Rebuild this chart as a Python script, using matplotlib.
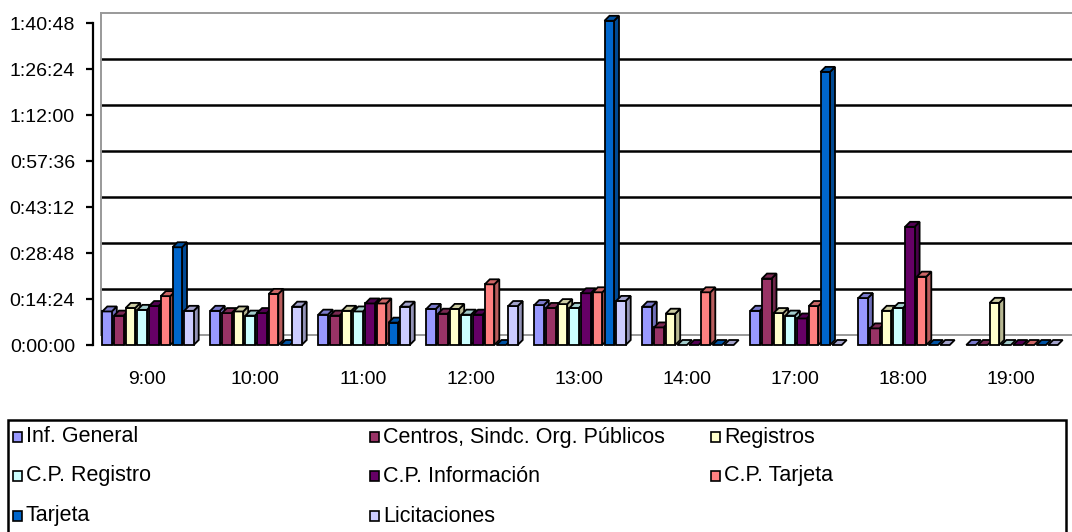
import matplotlib
matplotlib.use("Agg")
import matplotlib.pyplot as plt
import matplotlib.transforms as mtrans
from matplotlib.patches import Polygon, Rectangle
from matplotlib.ticker import FuncFormatter, FixedLocator
import matplotlib.colors as mcolors

plt.rcParams['font.family'] = ['Liberation Sans', 'DejaVu Sans']

categories = ["9:00", "10:00", "11:00", "12:00", "13:00", "14:00", "17:00", "18:00", "19:00"]
series_names = ["Inf. General", "Centros, Sindc. Org. Públicos", "Registros",
                "C.P. Registro", "C.P. Información", "C.P. Tarjeta",
                "Tarjeta", "Licitaciones"]
series_colors = ["#9999FF", "#993366", "#FFFFCC", "#CCFFFF",
                 "#660066", "#FF8080", "#0066CC", "#CCCCFF"]

# values in minutes
inf_general   = [10.5, 10.7, 9.5, 11.3, 12.5, 12.0, 10.7, 14.7, 0.0]
centros       = [9.2, 10.0, 9.2, 9.8, 11.6, 5.5, 20.8, 5.2, 0.0]
registros     = [11.6, 10.5, 10.7, 11.3, 12.8, 9.8, 10.0, 10.7, 13.2]
cp_registro   = [11.0, 9.2, 10.5, 9.5, 11.6, 0.0, 9.2, 11.6, 0.0]
cp_informacion= [12.2, 10.0, 13.0, 9.5, 16.2, 0.0, 8.3, 37.0, 0.0]
cp_tarjeta    = [15.3, 16.0, 13.0, 19.0, 16.5, 16.5, 12.2, 21.4, 0.0]
tarjeta       = [30.6, 0.0, 7.0, 0.0, 101.5, 0.0, 85.5, 0.0, 0.0]
licitaciones  = [10.7, 12.0, 12.0, 12.2, 13.8, 0.0, 0.0, 0.0, 0.0]
series_values = [inf_general, centros, registros, cp_registro,
                 cp_informacion, cp_tarjeta, tarjeta, licitaciones]

y_ticks_sec = [0, 864, 1728, 2592, 3456, 4320, 5184, 6048]

W, H = 1072, 532
fig = plt.figure(figsize=(W / 100, H / 100), dpi=100)
ax = fig.add_axes([93 / W, 1 - 345 / H, (1065 - 93) / W, (345 - 23) / H])
ax.set_xlim(-0.5, len(categories) - 0.5)
ax.set_ylim(0, y_ticks_sec[-1] / 60)

# pixel -> data conversions
px_x = (len(categories)) / (1065 - 93)
px_y = (y_ticks_sec[-1] / 60) / (345 - 23)

# back wall (offset)
wall_dx, wall_dy = 8, 10
off = ax.transData + mtrans.ScaledTranslation(wall_dx / 100, wall_dy / 100, fig.dpi_scale_trans)
for t in y_ticks_sec:
    v = t / 60
    col = "#999999" if (t == 0 or t == y_ticks_sec[-1]) else "black"
    lw = 1.8 if col == "black" else 1.4
    ax.plot([-0.5, len(categories) - 0.5 + 0.1], [v, v], color=col, lw=lw,
            transform=off, clip_on=False, zorder=1)
ax.plot([-0.5, -0.5], [0, y_ticks_sec[-1] / 60], color="#999999", lw=1.4,
        transform=off, clip_on=False, zorder=1)

# bars
spacing = 11.7 * px_x
w = 9.5 * px_x
ddx = 5 * px_x
ddy = 5 * px_y

def darker(c, f):
    r, g, b = mcolors.to_rgb(c)
    return (r * f, g * f, b * f)

for i, (vals, col) in enumerate(zip(series_values, series_colors)):
    for j, v in enumerate(vals):
        xc = j + (i - 3.5) * spacing + 1 * px_x
        x0 = xc - w / 2
        z = 3 + i * 0.01
        if v > 0:
            side = Polygon([(x0 + w, 0), (x0 + w + ddx, ddy), (x0 + w + ddx, v + ddy), (x0 + w, v)],
                           closed=True, facecolor=darker(col, 0.72), edgecolor="black",
                           lw=1.3, zorder=z, clip_on=False)
            ax.add_patch(side)
            body = Rectangle((x0, 0), w, v, facecolor=col, edgecolor="black",
                             lw=1.3, zorder=z + 0.001, clip_on=False)
            ax.add_patch(body)
        top = Polygon([(x0, v), (x0 + w, v), (x0 + w + ddx, v + ddy), (x0 + ddx, v + ddy)],
                      closed=True, facecolor=darker(col, 0.8), edgecolor="black",
                      lw=1.3, zorder=z + 0.002, clip_on=False)
        ax.add_patch(top)

# axes styling
for s in ["top", "right", "bottom"]:
    ax.spines[s].set_visible(False)
ax.spines["left"].set_linewidth(1.6)
ax.yaxis.set_major_locator(FixedLocator([t / 60 for t in y_ticks_sec]))

def fmt(v, pos):
    s = int(round(v * 60))
    return f"{s // 3600}:{(s % 3600) // 60:02d}:{s % 60:02d}"

ax.yaxis.set_major_formatter(FuncFormatter(fmt))
ax.tick_params(axis="y", direction="out", length=5, width=1.6, pad=8,
               labelsize=14)
ax.set_xticks(range(len(categories)))
ax.set_xticklabels(categories)
ax.tick_params(axis="x", length=0, pad=19, labelsize=14)
ax.set_facecolor("none")

# legend (manual, framed)
fig.patches.append(Rectangle((8 / W, -0.05), (1066 - 8) / W, (0.05 + 1 - 420 / H),
                             transform=fig.transFigure, facecolor="white",
                             edgecolor="black", lw=1.8, zorder=0))
col_x = [13, 370, 711]
row_y = [437, 476, 516]
for k, (name, col) in enumerate(zip(series_names, series_colors)):
    r, c = divmod(k, 3)
    x = col_x[c]
    y = row_y[r]
    fig.patches.append(Rectangle((x / W, 1 - (y + 5) / H), 9 / W, 10 / H,
                                 transform=fig.transFigure, facecolor=col,
                                 edgecolor="black", lw=1.2, zorder=2))
    fig.text((x + 13) / W, 1 - y / H, name, ha="left", va="center",
             fontsize=15.5, zorder=3)

fig.savefig("out.png", dpi=100)
